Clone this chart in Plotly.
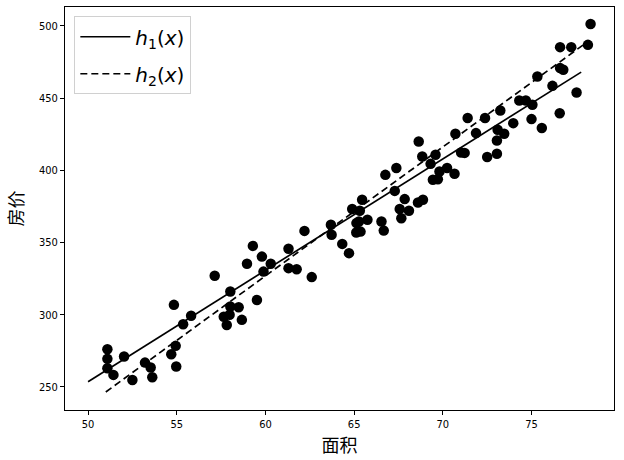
import plotly.graph_objects as go

area = [51.09, 51.09, 51.09, 51.43, 52.03, 52.50, 53.21, 53.53, 53.62, 54.69,
        54.84, 54.94, 54.97, 55.36, 55.81, 57.14, 57.65, 57.98, 57.82, 58.02,
        58.02, 58.49, 58.67, 58.96, 59.29, 59.52, 59.80, 59.89, 60.30, 61.30,
        61.30, 61.76, 62.20, 62.61, 63.69, 63.73, 64.33, 64.71, 65.13, 65.12,
        64.89, 65.32, 65.45, 65.27, 65.75, 65.36, 66.54, 66.67, 66.76, 67.29,
        67.38, 67.57, 67.66, 67.85, 68.09, 68.60, 68.88, 68.64, 68.84, 69.31,
        69.59, 69.44, 69.72, 69.81, 70.24, 70.66, 70.71, 71.03, 71.23, 72.50,
        73.05, 71.40, 71.87, 72.38, 73.09, 73.46, 73.05, 73.24, 73.97, 74.31,
        74.68, 75.05, 75.00, 75.58, 75.33, 76.18, 76.59, 76.61, 76.79, 77.54,
        76.61, 77.24, 78.18, 78.33]
price = [276.1, 269.4, 262.9, 258.3, 271.0, 254.8, 266.8, 263.4, 256.7, 272.6,
         306.8, 278.4, 264.1, 293.4, 299.2, 326.9, 298.5, 299.9, 292.9, 316.0,
         305.6, 305.1, 296.4, 335.2, 347.6, 310.2, 340.2, 329.8, 335.2, 345.6,
         332.2, 331.5, 358.0, 326.0, 362.2, 355.3, 349.0, 342.6, 363.4, 356.9,
         373.1, 371.9, 379.5, 364.5, 365.7, 357.5, 364.5, 358.2, 396.8, 385.7,
         401.5, 373.1, 366.8, 380.0, 371.9, 377.6, 379.5, 419.9, 409.5, 404.4,
         410.7, 393.4, 393.8, 399.1, 401.5, 397.5, 425.2, 412.3, 412.0, 409.2,
         411.4, 436.1, 425.7, 436.1, 428.0, 425.2, 420.6, 441.3, 432.6, 448.3,
         448.3, 445.3, 435.4, 429.2, 464.9, 458.4, 439.5, 470.7, 469.5, 453.8,
         485.2, 485.2, 486.8, 501.2]

h1_x = [50.0, 77.8]
h1_y = [253.6, 467.9]
h2_x = [51.0, 77.9]
h2_y = [246.5, 486.6]

x_ticks = [50, 55, 60, 65, 70, 75]
y_ticks = [250, 300, 350, 400, 450, 500]

fig = go.Figure()
fig.add_trace(go.Scatter(x=area, y=price, mode="markers",
                         marker=dict(color="black", size=10.5),
                         showlegend=False))
fig.add_trace(go.Scatter(x=h1_x, y=h1_y, mode="lines",
                         line=dict(color="black", width=1.7),
                         legendgroup="a",
                         name="<i>h</i><sub>1</sub>(<i>x</i>)"))
fig.add_trace(go.Scatter(x=h2_x, y=h2_y, mode="lines",
                         line=dict(color="black", width=1.7, dash="7px,4px"),
                         legendgroup="b",
                         name="<i>h</i><sub>2</sub>(<i>x</i>)"))

axis_common = dict(showgrid=False, zeroline=False, showline=True,
                   linecolor="black", linewidth=1, mirror=True,
                   ticks="outside", ticklen=4, tickcolor="black",
                   tickfont=dict(family="DejaVu Sans Condensed, DejaVu Sans", size=11, color="black"))

fig.update_layout(
    width=624, height=460,
    margin=dict(l=65, r=10, t=7, b=50),
    plot_bgcolor="white", paper_bgcolor="white",
    xaxis=dict(range=[48.7, 79.65], tickvals=x_ticks,
               title=dict(text="面积", font=dict(family="Noto Sans CJK SC", size=18, color="black"),
                          standoff=6),
               **axis_common),
    yaxis=dict(range=[234, 513], tickvals=y_ticks,
               title=dict(text="房价", font=dict(family="Noto Sans CJK SC", size=18, color="black"),
                          standoff=10),
               **axis_common),
    legend=dict(x=0.017, y=0.977, xanchor="left", yanchor="top",
                bgcolor="white", bordercolor="#d0d0d0", borderwidth=1,
                font=dict(family="DejaVu Sans", size=20, color="black"),
                itemwidth=50, tracegroupgap=8),
)

fig.write_html("out.html")
